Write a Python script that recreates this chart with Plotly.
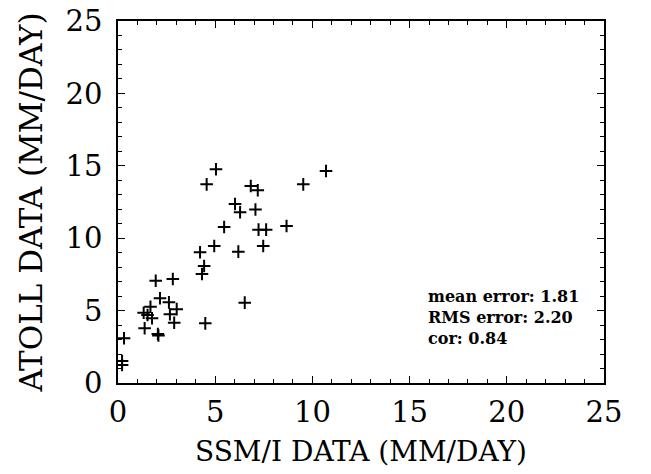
import plotly.graph_objects as go

# Data
ssmi_mm_day = [5.04, 4.56, 10.70, 9.53, 6.83, 7.19, 6.02, 6.28, 7.07, 5.46,
               7.23, 7.62, 8.67, 4.95, 4.22, 6.19, 7.47, 4.43, 4.32, 1.94,
               2.82, 2.16, 2.62, 3.02, 1.67, 1.32, 1.52, 1.75, 2.67, 2.89,
               1.37, 2.05, 2.08, 4.49, 6.52, 0.31, 0.21, 0.21]
atoll_mm_day = [14.76, 13.72, 14.64, 13.72, 13.60, 13.31, 12.36, 11.79, 11.98, 10.77,
                10.59, 10.59, 10.84, 9.46, 9.03, 9.07, 9.46, 8.08, 7.53, 7.06,
                7.18, 5.85, 5.57, 5.10, 5.27, 4.85, 4.70, 4.47, 4.75, 4.16,
                3.78, 3.38, 3.28, 4.12, 5.55, 3.09, 1.52, 1.24]

tick_values = [0, 5, 10, 15, 20, 25]
tick_labels = ["0", "5", "10", "15", "20", "25"]

stat_names = ["mean error", "RMS error", "cor"]
stat_values = ["1.81", "2.20", "0.84"]

x_title = "SSM/I DATA (MM/DAY)"
y_title = "ATOLL DATA (MM/DAY)"

FONT = "DejaVu Serif"

fig = go.Figure()
fig.add_trace(go.Scatter(
    x=ssmi_mm_day, y=atoll_mm_day, mode="markers",
    marker=dict(symbol="cross-thin", size=9, color="black",
                line=dict(color="black", width=2)),
    showlegend=False, hoverinfo="x+y",
))

axis_common = dict(
    range=[0, 25], tickmode="array", tickvals=tick_values, ticktext=tick_labels,
    ticks="inside", ticklen=7, tickwidth=1.3, tickcolor="black",
    minor=dict(dtick=1, ticks="inside", ticklen=4, tickwidth=1, tickcolor="black"),
    showline=True, linecolor="black", linewidth=1.5, mirror="ticks",
    showgrid=False, zeroline=False,
    tickfont=dict(family=FONT, size=29, color="black"),
    automargin=False,
)

fig.update_xaxes(**axis_common, ticklabelstandoff=2,
                 title=dict(text=x_title, font=dict(family=FONT, size=28, color="black"),
                            standoff=14))
fig.update_yaxes(**axis_common, ticklabelstandoff=8,
                 title=dict(text=y_title, font=dict(family=FONT, size=31, color="black"),
                            standoff=14))

stats_text = "<br>".join(f"<b>{n}: {v}</b>" for n, v in zip(stat_names, stat_values))
fig.add_annotation(
    text=stats_text, xref="paper", yref="paper",
    x=0.634, y=0.182, xanchor="left", yanchor="middle", align="left",
    showarrow=False, font=dict(family=FONT, size=16, color="black"),
)

fig.update_layout(
    width=651, height=474,
    margin=dict(l=118, r=47, t=21, b=91),
    paper_bgcolor="white", plot_bgcolor="white",
)

fig.write_html("out.html")
